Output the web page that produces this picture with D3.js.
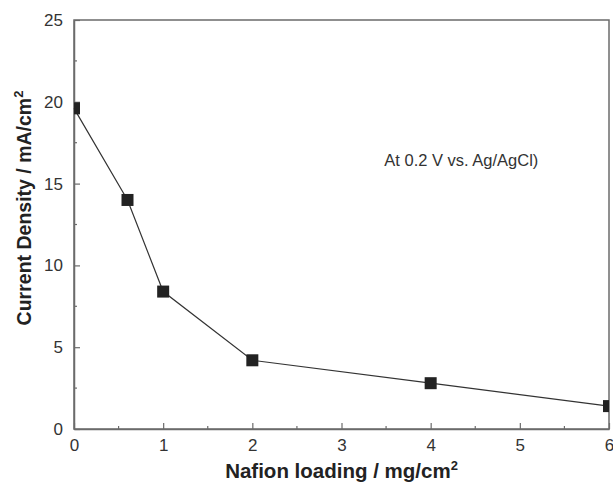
<!DOCTYPE html>
<html>
<head>
<meta charset="utf-8">
<script src="https://cdn.jsdelivr.net/npm/d3@7"></script>
<style>
  body { margin: 0; background: #fff; }
  text { font-family: "Liberation Sans", Arial, sans-serif; }
</style>
</head>
<body>
<div id="chart"></div>
<script>
// Nafion loading vs current density
var loading = [0, 0.6, 1, 2, 4, 6];
var density = [19.6, 14.0, 8.4, 4.2, 2.8, 1.4];
var xTicks = [0, 1, 2, 3, 4, 5, 6];
var yTicks = [0, 5, 10, 15, 20, 25];

var W = 613, H = 485;
var margin = { top: 20, right: 4, bottom: 56, left: 74 },
    width = W - margin.left - margin.right,
    height = H - margin.top - margin.bottom;

var svg = d3.select("#chart").append("svg")
    .attr("width", W).attr("height", H);
var g = svg.append("g")
    .attr("transform", "translate(" + margin.left + "," + margin.top + ")");

var x = d3.scaleLinear().domain([0, 6]).range([0, width]);
var y = d3.scaleLinear().domain([0, 25]).range([height, 0]);

var axisColor = "#6b6b6b";

// frame
g.append("rect")
    .attr("width", width).attr("height", height)
    .attr("fill", "none").attr("stroke", axisColor).attr("stroke-width", 1.5);

// minor ticks (inward)
var xMinor = d3.range(0.5, 6, 1);
var yMinor = d3.range(2.5, 25, 5);
g.selectAll(".xminor").data(xMinor).enter().append("line")
    .attr("x1", d => x(d)).attr("x2", d => x(d))
    .attr("y1", height).attr("y2", height - 3)
    .attr("stroke", axisColor).attr("stroke-width", 1.2);
g.selectAll(".yminor").data(yMinor).enter().append("line")
    .attr("x1", 0).attr("x2", 3)
    .attr("y1", d => y(d)).attr("y2", d => y(d))
    .attr("stroke", axisColor).attr("stroke-width", 1.2);

// major axes
var xAxis = g.append("g")
    .attr("transform", "translate(0," + height + ")")
    .call(d3.axisBottom(x).tickValues(xTicks).tickFormat(d3.format("d"))
        .tickSizeInner(-6).tickSizeOuter(0).tickPadding(10));
var yAxis = g.append("g")
    .call(d3.axisLeft(y).tickValues(yTicks).tickFormat(d3.format("d"))
        .tickSizeInner(-6).tickSizeOuter(0).tickPadding(11));
[xAxis, yAxis].forEach(function (a) {
    a.select(".domain").attr("stroke", axisColor).attr("stroke-width", 1.5);
    a.selectAll(".tick line").attr("stroke", axisColor).attr("stroke-width", 1.2);
    a.selectAll(".tick text")
        .attr("fill", "#333")
        .style("font-size", "17px")
        .style("font-family", "'Liberation Sans', Arial, sans-serif");
});

// clip for markers
svg.append("clipPath").attr("id", "plotClip")
    .append("rect").attr("width", width).attr("height", height);

var pts = loading.map(function (d, i) { return { x: d, y: density[i] }; });

var line = d3.line().x(d => x(d.x)).y(d => y(d.y));
g.append("path")
    .datum(pts)
    .attr("fill", "none")
    .attr("stroke", "#333")
    .attr("stroke-width", 1.2)
    .attr("d", line);

var sz = 12;
g.append("g").attr("clip-path", "url(#plotClip)")
    .selectAll("rect").data(pts).enter().append("rect")
    .attr("x", d => x(d.x) - sz / 2)
    .attr("y", d => y(d.y) - sz / 2)
    .attr("width", sz).attr("height", sz)
    .attr("fill", "#222");

// annotation
g.append("text")
    .attr("x", x(3.48)).attr("y", y(16.1))
    .attr("fill", "#333")
    .style("font-size", "16.5px")
    .text("At 0.2 V vs. Ag/AgCl)");

// axis titles
var xt = svg.append("text")
    .attr("x", margin.left + width / 2).attr("y", H - 7)
    .attr("text-anchor", "middle")
    .attr("fill", "#222")
    .style("font-size", "20.5px").style("font-weight", "bold");
xt.append("tspan").text("Nafion loading / mg/cm");
xt.append("tspan").attr("dy", -8).style("font-size", "13px").text("2");

var yt = svg.append("text")
    .attr("transform", "translate(31,208) rotate(-90)")
    .attr("text-anchor", "middle")
    .attr("fill", "#222")
    .style("font-size", "19.5px").style("font-weight", "bold");
yt.append("tspan").text("Current Density / mA/cm");
yt.append("tspan").attr("dy", -8).style("font-size", "13px").text("2");
</script>
</body>
</html>
